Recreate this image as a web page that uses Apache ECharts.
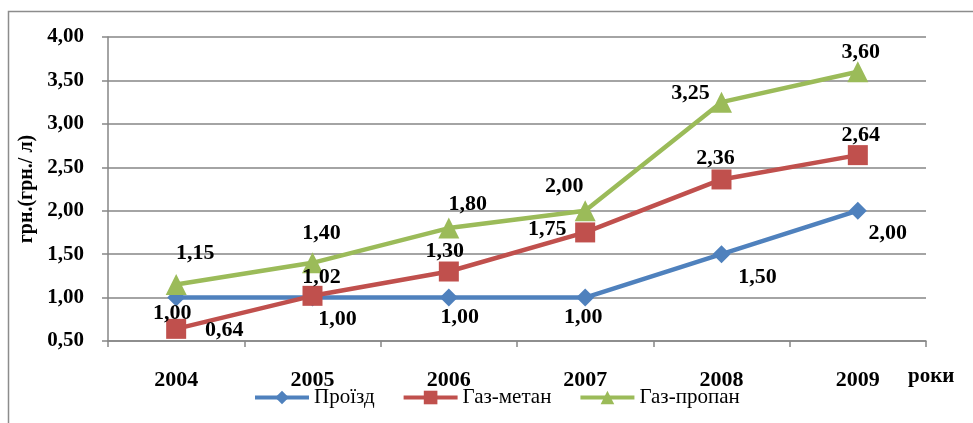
<!DOCTYPE html>
<html>
<head>
<meta charset="utf-8">
<script src="https://cdn.jsdelivr.net/npm/echarts@6/dist/echarts.min.js"></script>
<style>
  html, body { margin: 0; padding: 0; background: #fff; }
  #chart { width: 973px; height: 423px; }
</style>
</head>
<body>
<div id="chart"></div>
<script>
// дані
const years = ['2004', '2005', '2006', '2007', '2008', '2009'];
const proizd = [1.00, 1.00, 1.00, 1.00, 1.50, 2.00];
const gazMetan = [0.64, 1.02, 1.30, 1.75, 2.36, 2.64];
const gazPropan = [1.15, 1.40, 1.80, 2.00, 3.25, 3.60];
const yTicks = [0.5, 1, 1.5, 2, 2.5, 3, 3.5, 4];

// зсуви підписів (px від точки)
const proizdOff = [[-4, 16], [25, 22], [11, 20], [-2, 20], [36, 23], [30, 23]];
const metanOff = [[48, 1], [9, -19], [-4, -20], [-38, -3], [-6, -21], [3, -20]];
const propanOff = [[19, -31], [9, -30], [19, -24], [-21, -24], [-31, -9], [3, -19]];

const serif = '"Liberation Serif", "DejaVu Serif", serif';
const fmt = v => v.toFixed(2).replace('.', ',');

function points(values, offsets) {
    return values.map((v, i) => ({
        value: v,
        label: { offset: offsets[i] }
    }));
}

function makeSeries(name, values, offsets, color, symbol, size) {
    return {
        name: name,
        type: 'line',
        data: points(values, offsets),
        symbol: symbol,
        symbolSize: size,
        lineStyle: { color: color, width: 4.5 },
        itemStyle: { color: color },
        label: {
            show: true,
            position: 'inside',
            align: 'center',
            verticalAlign: 'middle',
            formatter: p => fmt(p.value),
            fontFamily: serif,
            fontWeight: 'bold',
            fontSize: 22,
            color: '#000'
        },
        emphasis: { disabled: true },
        animation: false
    };
}

const chart = echarts.init(document.getElementById('chart'));
chart.setOption({
    animation: false,
    grid: { left: 108, right: 47, top: 37, bottom: 82 },
    legend: {
        left: 248,
        top: 382,
        itemWidth: 54,
        itemHeight: 17,
        itemGap: 27,
        lineStyle: { width: 4 },
        textStyle: { fontFamily: serif, fontSize: 21, color: '#000' },
        data: ['Проїзд', 'Газ-метан', 'Газ-пропан']
    },
    xAxis: {
        type: 'category',
        data: years,
        boundaryGap: true,
        axisLine: { lineStyle: { color: '#868686', width: 1.5 } },
        axisTick: { show: true, length: 6, lineStyle: { color: '#868686', width: 1.5 } },
        axisLabel: {
            margin: 28,
            fontFamily: serif,
            fontWeight: 'bold',
            fontSize: 22,
            color: '#000'
        }
    },
    yAxis: {
        type: 'value',
        min: yTicks[0],
        max: yTicks[yTicks.length - 1],
        interval: 0.5,
        name: 'грн.(грн./ л)',
        nameLocation: 'middle',
        nameGap: 70,
        nameRotate: 90,
        nameTextStyle: { fontFamily: serif, fontWeight: 'bold', fontSize: 20, color: '#000' },
        axisLine: { show: true, lineStyle: { color: '#868686', width: 1.5 } },
        axisTick: { show: true, length: 6, lineStyle: { color: '#868686', width: 1.5 } },
        splitLine: { lineStyle: { color: '#868686', width: 1.5 } },
        axisLabel: {
            margin: 24,
            fontFamily: serif,
            fontWeight: 'bold',
            fontSize: 21,
            color: '#000',
            formatter: v => fmt(v)
        }
    },
    graphic: [
        {
            type: 'polyline',
            shape: { points: [[8.5, 423], [8.5, 11.5], [973, 11.5]] },
            style: { stroke: '#8c8c8c', lineWidth: 1.5, fill: null },
            silent: true
        },
        {
            type: 'text',
            left: 908,
            top: 366,
            style: {
                text: 'роки',
                fontFamily: serif,
                fontWeight: 'bold',
                fontSize: 21,
                fill: '#000'
            }
        }
    ],
    series: [
        makeSeries('Проїзд', proizd, proizdOff, '#4F81BD', 'diamond', 18),
        makeSeries('Газ-метан', gazMetan, metanOff, '#C0504D', 'rect', 20),
        makeSeries('Газ-пропан', gazPropan, propanOff, '#9BBB59', 'triangle', 21)
    ]
});
</script>
</body>
</html>
